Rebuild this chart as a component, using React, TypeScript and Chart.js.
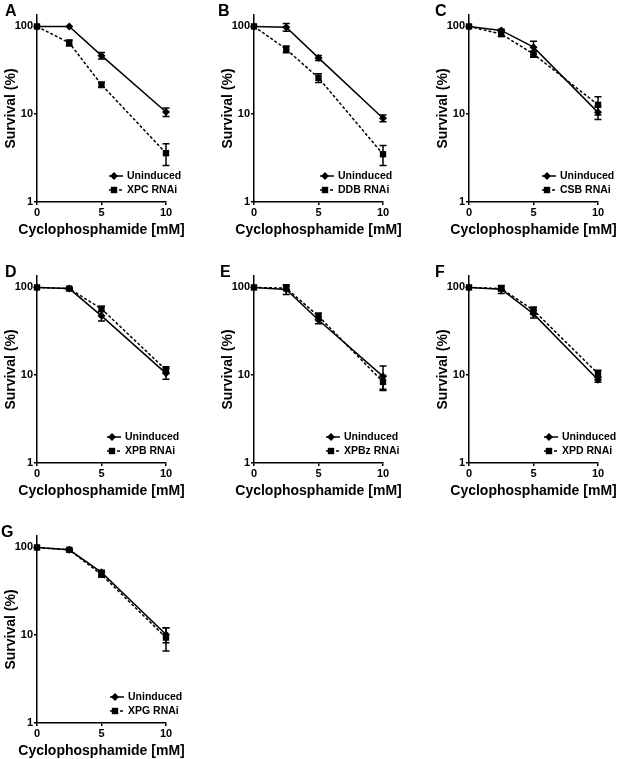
import React, { useEffect, useRef } from 'react';
import { Chart, registerables } from 'chart.js';

Chart.register(...registerables);

// ---- data ----
const doses = [0, 2.5, 5, 10];
const xTickValues = [0, 5, 10];
const yTickValues = [1, 10, 100];
const panelLetters = ['A', 'B', 'C', 'D', 'E', 'F', 'G'];
const controlLabel = 'Uninduced';
const rnaiLabels = ['XPC RNAi', 'DDB RNAi', 'CSB RNAi', 'XPB RNAi', 'XPBz RNAi', 'XPD RNAi', 'XPG RNAi'];
const xTitle = 'Cyclophosphamide [mM]';
const yTitle = 'Survival (%)';

const uninducedMean = [
  [100, 100, 46.5, 10.6],
  [100, 98, 43.8, 9.0],
  [100, 90, 58, 10.5],
  [100, 97, 47.5, 10.5],
  [100, 95, 42.5, 9.7],
  [100, 95.5, 50, 8.9],
  [100, 94, 52, 10.2],
];
const uninducedErr = [
  [0, 0, 4, 1.2],
  [0, 10, 3, 0.8],
  [0, 3, 10, 1.8],
  [0, 2, 6, 1.5],
  [0, 12, 4, 3],
  [0, 10, 5, 0.6],
  [0, 2, 3, 2],
];
const rnaiMean = [
  [100, 65, 21.7, 3.6],
  [100, 55, 26, 3.5],
  [100, 82, 48.5, 12.8],
  [100, 97, 57, 11.5],
  [100, 98, 47, 8.4],
  [100, 97, 55, 10.4],
  [100, 94, 49, 9.4],
];
const rnaiErr = [
  [0, 5, 1.5, 1.0],
  [0, 5, 3, 0.9],
  [0, 5, 4, 3],
  [0, 2, 4, 1],
  [0, 5, 4, 1.5],
  [0, 5, 5, 1],
  [0, 2, 3, 2.8],
];

// ---- layout ----
const colLeft = [0, 217, 432];
const rowTop = [0, 261, 521];
const legendX = [127, 121, 128, 125, 127, 130, 128];
const letterX = [5, 1, 3, 5, 3, 3, 1];

const FAMILY = '"Liberation Sans", Arial, Helvetica, sans-serif';
const W = 186;
const H = 240;

const errorBarPlugin = {
  id: 'errorBars',
  afterDatasetsDraw(chart: any) {
    const ctx = chart.ctx;
    const yScale = chart.scales.y;
    ctx.save();
    ctx.strokeStyle = '#000';
    ctx.lineWidth = 1.5;
    ctx.setLineDash([]);
    chart.data.datasets.forEach((ds: any, di: number) => {
      const meta = chart.getDatasetMeta(di);
      meta.data.forEach((el: any, i: number) => {
        const m = ds.data[i].y;
        const e = ds.errors[i];
        if (!e) return;
        const yt = yScale.getPixelForValue(m + e);
        const yb = yScale.getPixelForValue(Math.max(m - e, 0.01));
        const x = el.x;
        ctx.beginPath();
        ctx.moveTo(x, yt);
        ctx.lineTo(x, yb);
        ctx.moveTo(x - 3.5, yt);
        ctx.lineTo(x + 3.5, yt);
        ctx.moveTo(x - 3.5, yb);
        ctx.lineTo(x + 3.5, yb);
        ctx.stroke();
      });
    });
    ctx.restore();
  },
};

function drawMarker(ctx: CanvasRenderingContext2D, style: string, x: number, y: number) {
  ctx.beginPath();
  if (style === 'rectRot') {
    ctx.moveTo(x, y - 4);
    ctx.lineTo(x + 4, y);
    ctx.lineTo(x, y + 4);
    ctx.lineTo(x - 4, y);
    ctx.closePath();
  } else {
    ctx.rect(x - 3.2, y - 3.2, 6.4, 6.4);
  }
  ctx.fill();
}

function Panel({ idx }: { idx: number }) {
  const ref = useRef<HTMLCanvasElement>(null);
  useEffect(() => {
    const decor = {
      id: 'decor',
      afterDraw(chart: any) {
        const ctx = chart.ctx as CanvasRenderingContext2D;
        const area = chart.chartArea;
        ctx.save();
        ctx.fillStyle = '#000';
        ctx.strokeStyle = '#000';
        // panel letter
        ctx.font = `bold 16px ${FAMILY}`;
        ctx.textBaseline = 'top';
        ctx.textAlign = 'left';
        ctx.fillText(panelLetters[idx], letterX[idx], 4);
        // x-axis title
        ctx.font = `bold 14px ${FAMILY}`;
        ctx.textAlign = 'center';
        ctx.textBaseline = 'middle';
        ctx.fillText(xTitle, (area.left + area.right) / 2, 230);
        // legend
        const lx = legendX[idx];
        const rows = [
          { label: controlLabel, style: 'rectRot', dash: [] as number[] },
          { label: rnaiLabels[idx], style: 'rect', dash: [3, 2] },
        ];
        ctx.font = `bold 10.5px ${FAMILY}`;
        ctx.textAlign = 'left';
        ctx.textBaseline = 'middle';
        rows.forEach((r, k) => {
          const y = 176 + k * 14;
          ctx.lineWidth = 1.5;
          ctx.setLineDash(r.dash);
          ctx.beginPath();
          ctx.moveTo(lx - 18, y);
          ctx.lineTo(lx - 4, y);
          ctx.stroke();
          ctx.setLineDash([]);
          drawMarker(ctx, r.style, lx - 13, y);
          ctx.fillText(r.label, lx, y + 0.5);
        });
        ctx.restore();
      },
    };

    const tickFont = { family: FAMILY, size: 11, weight: 'bold' as const };
    const titleFont = { family: FAMILY, size: 14, weight: 'bold' as const };

    const chart = new Chart(ref.current!, {
      type: 'line',
      data: {
        datasets: [
          {
            label: rnaiLabels[idx],
            data: doses.map((x, i) => ({ x, y: rnaiMean[idx][i] })),
            errors: rnaiErr[idx],
            borderColor: '#000',
            backgroundColor: '#000',
            borderWidth: 1.5,
            borderDash: [3, 2],
            pointStyle: 'rect',
            pointRadius: 4.5,
            pointBorderWidth: 0,
            tension: 0,
            clip: false,
          } as any,
          {
            label: controlLabel,
            data: doses.map((x, i) => ({ x, y: uninducedMean[idx][i] })),
            errors: uninducedErr[idx],
            borderColor: '#000',
            backgroundColor: '#000',
            borderWidth: 1.5,
            pointStyle: 'rectRot',
            pointRadius: 4,
            pointBorderWidth: 0,
            tension: 0,
            clip: false,
          } as any,
        ],
      },
      options: {
        responsive: false,
        animation: false,
        events: [],
        layout: { padding: { top: 15, right: 20, left: 0, bottom: 0 } },
        plugins: { legend: { display: false }, tooltip: { enabled: false } },
        scales: {
          x: {
            type: 'linear',
            min: 0,
            max: 10,
            afterBuildTicks: (s: any) => {
              s.ticks = xTickValues.map((v) => ({ value: v }));
            },
            afterFit: (s: any) => {
              s.height = 38;
            },
            grid: { drawOnChartArea: false, drawTicks: true, tickLength: 3, color: '#000', lineWidth: 1.5 },
            border: { display: true, color: '#000', width: 1.5 },
            ticks: { color: '#000', font: tickFont, padding: 1, maxRotation: 0, autoSkip: false, callback: (v: any) => String(v) },
            title: { display: false },
          },
          y: {
            type: 'logarithmic',
            min: 1,
            max: 135,
            afterBuildTicks: (s: any) => {
              s.ticks = yTickValues.map((v) => ({ value: v }));
            },
            afterFit: (s: any) => {
              s.width = 37;
            },
            grid: { drawOnChartArea: false, drawTicks: true, tickLength: 3, color: '#000', lineWidth: 1.5 },
            border: { display: true, color: '#000', width: 1.5 },
            ticks: { color: '#000', font: tickFont, padding: 1, autoSkip: false, callback: (v: any) => String(v) },
            title: { display: true, text: yTitle, color: '#000', font: titleFont, padding: { top: 3, bottom: 0 } },
          },
        },
      } as any,
      plugins: [errorBarPlugin, decor],
    });
    return () => chart.destroy();
  }, [idx]);

  const left = colLeft[idx % 3];
  const top = rowTop[Math.floor(idx / 3)];
  return (
    <canvas
      ref={ref}
      width={W}
      height={H}
      style={{ position: 'absolute', left, top, width: W, height: H }}
    />
  );
}

export default function App() {
  return (
    <div style={{ position: 'absolute', left: 0, top: 0, width: 619, height: 759, background: '#fff' }}>
      {panelLetters.map((_, i) => (
        <Panel key={i} idx={i} />
      ))}
    </div>
  );
}
